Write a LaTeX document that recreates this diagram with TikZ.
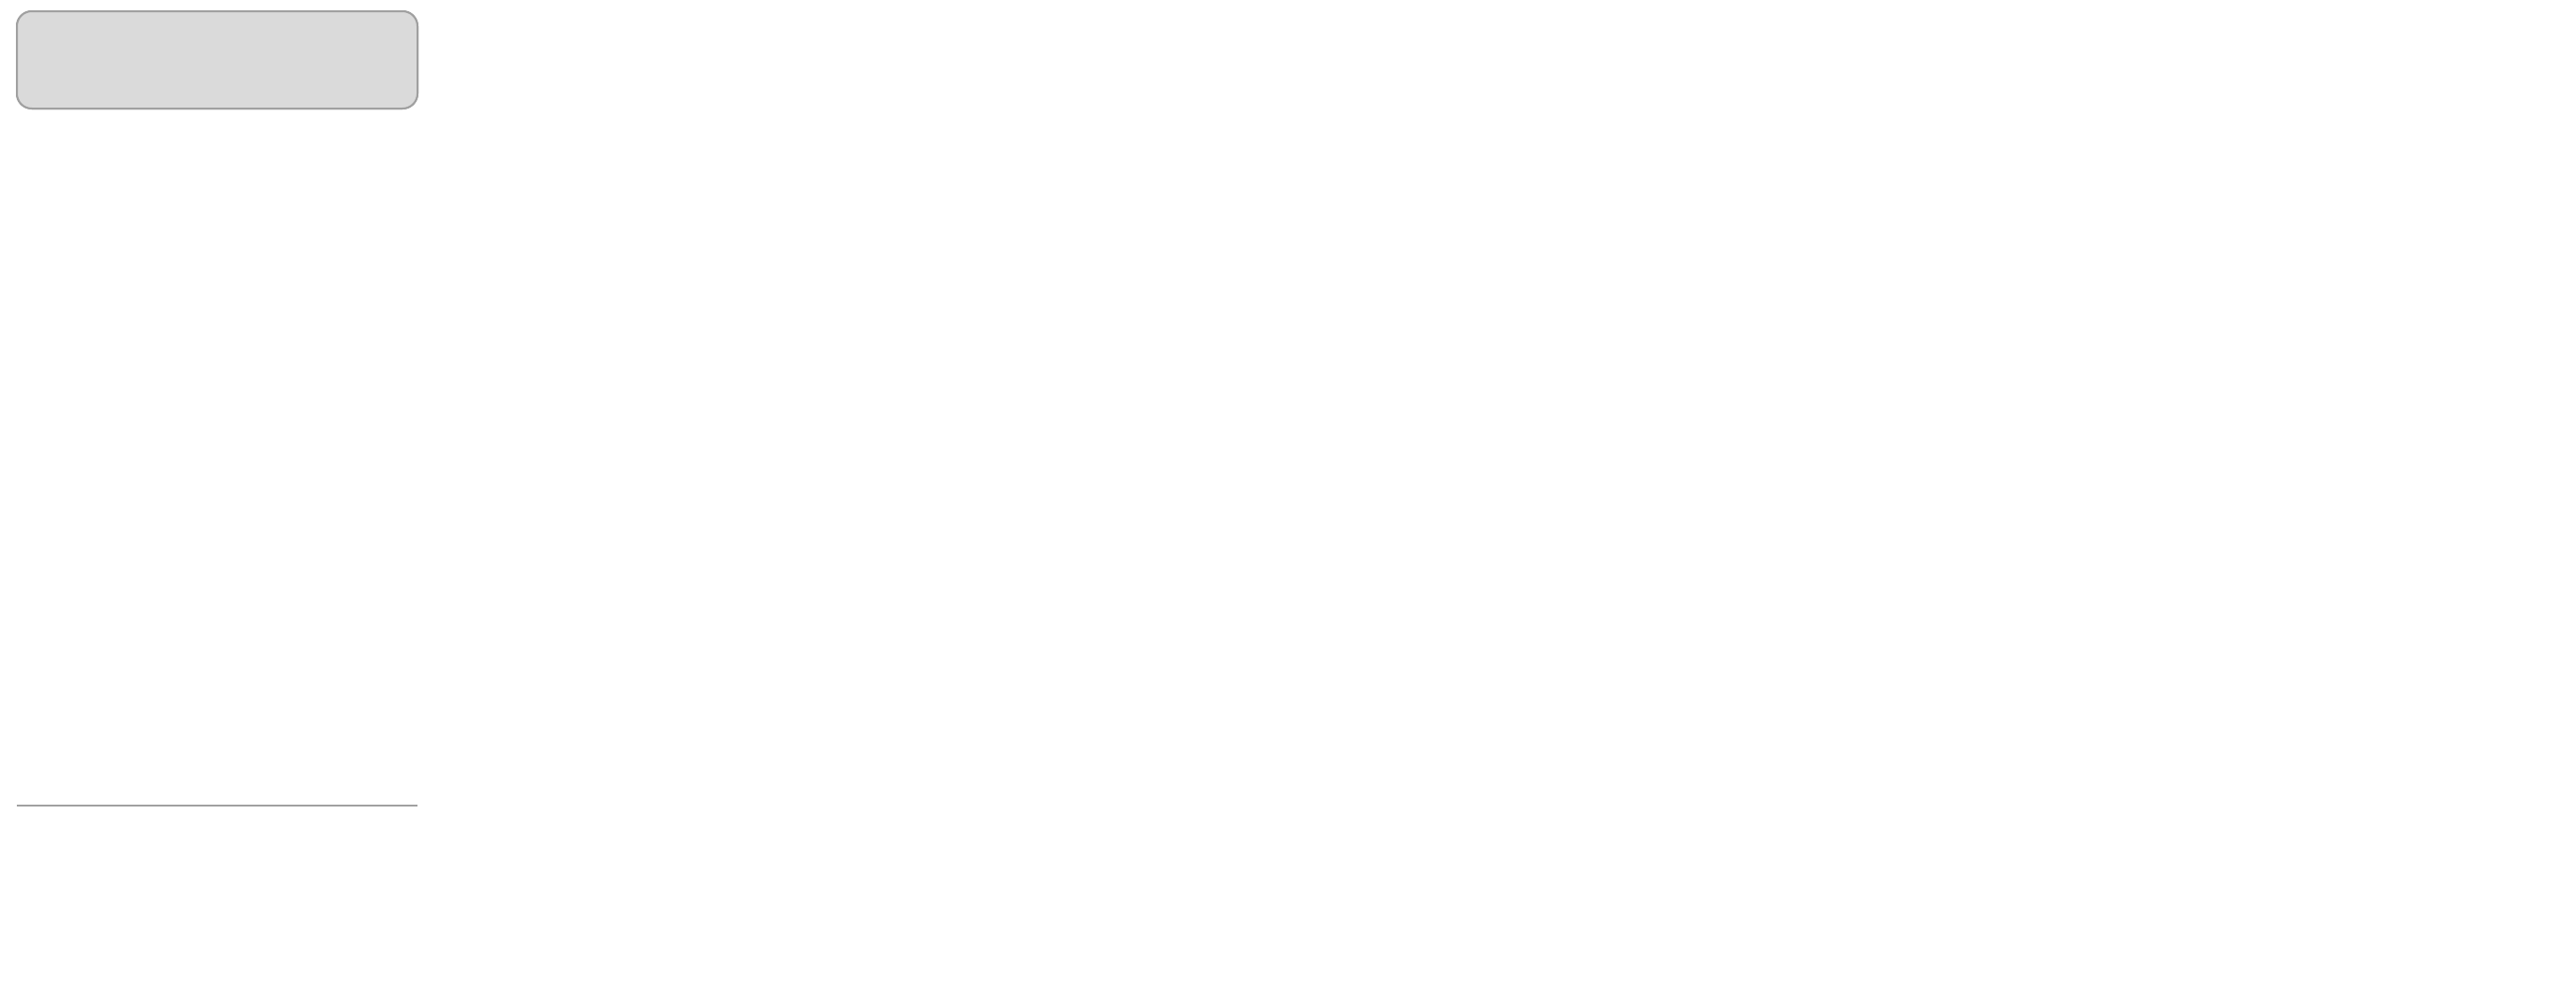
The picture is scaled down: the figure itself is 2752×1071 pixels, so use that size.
\documentclass[tikz,border=0pt]{standalone}
\usepackage{fontspec}
\setmainfont{Liberation Sans}
\usetikzlibrary{arrows.meta}
\definecolor{darkg}{HTML}{474747}
\definecolor{txt}{HTML}{222222}
\definecolor{inbg}{HTML}{F1F1F1}\definecolor{inhd}{HTML}{DADADA}\definecolor{inbd}{HTML}{A0A0A0}
\definecolor{cnbg}{HTML}{DCE9F6}\definecolor{cnhd}{HTML}{A9C9E8}\definecolor{cnbd}{HTML}{4F86BF}
\definecolor{tmbg}{HTML}{E3EFE0}\definecolor{tmhd}{HTML}{C5DFBF}\definecolor{tmbd}{HTML}{7DAE75}
\definecolor{clbg}{HTML}{EFEFEF}\definecolor{clhd}{HTML}{DCDCDC}\definecolor{clbd}{HTML}{A0A0A0}
\definecolor{cOne}{HTML}{CFE1F3}\definecolor{cOneB}{HTML}{9FC0E0}
\definecolor{cTwo}{HTML}{8DB6DE}\definecolor{cTwoB}{HTML}{5F92C5}
\definecolor{cThr}{HTML}{2F6EAB}\definecolor{cThrB}{HTML}{1F5A94}
\definecolor{innerF}{HTML}{EEF4FB}\definecolor{innerB}{HTML}{A8C4E0}
\definecolor{slabF}{HTML}{8AB4DC}\definecolor{slabB}{HTML}{2D5F91}
\definecolor{lsF}{HTML}{CFE5CA}\definecolor{lsB}{HTML}{7FB077}\definecolor{lsG}{HTML}{4C7E46}
\definecolor{sig}{HTML}{4A6A90}
\tikzset{
 fs/.style={font=\fontsize{#1}{#1*1.2}\selectfont},
 tx/.style={text=txt, fs=#1, align=center, inner sep=0},
 txb/.style={text=txt, font=\fontsize{#1}{#1*1.2}\selectfont\bfseries, align=center, inner sep=0},
 fat/.style={draw=darkg, line width=11pt, -{Triangle[length=24pt,width=38pt]}},
 fatline/.style={draw=darkg, line width=10pt},
 rbox/.style={draw=#1, line width=2pt, rounded corners=16pt, inner sep=0},
}
\newcommand\panel[7]{%
 \node[rbox=#7bd, fill=#7bg, minimum width={#4-#2}, minimum height={#5-#3}] (#1) at ({(#2+#4)/2},{(#3+#5)/2}) {};
 \begin{scope}\clip[rounded corners=16pt] (#2,#3) rectangle (#4,#5); \fill[#7hd] (#2,#3) rectangle (#4,#6); \end{scope}
 \draw[#7bd, line width=2pt, rounded corners=16pt] (#2,#3) rectangle (#4,#5);
 \draw[#7bd, line width=1.5pt] (#2,#6) -- (#4,#6);}
% slab: x y(top of front) w h dx dy fill border nlayers
\newcommand\slab[9]{%
 \begin{scope}[line width=1.6pt, draw=#8]
 \filldraw[fill=#7] (#1,#2) rectangle ({#1+#3},{#2+#4});
 \filldraw[fill=#7!80!white] (#1,#2) -- ({#1+#5},{#2-#6}) -- ({#1+#3+#5},{#2-#6}) -- ({#1+#3},#2) -- cycle;
 \filldraw[fill=#7!75!black] ({#1+#3},#2) -- ({#1+#3+#5},{#2-#6}) -- ({#1+#3+#5},{#2+#4-#6}) -- ({#1+#3},{#2+#4}) -- cycle;
 \foreach \k in {1,...,#9}{
  \pgfmathsetmacro\fr{\k/(#9+1)}
  \draw[line width=1pt] ({#1+#5*\fr},{#2-#6*\fr}) -- ({#1+#3+#5*\fr},{#2-#6*\fr}) -- ({#1+#3+#5*\fr},{#2+#4-#6*\fr});}
 \end{scope}}
% lstm icon: cx cy, inner top dir (1 right, -1 left)
\newcommand\lstmicon[3]{%
 \begin{scope}[shift={(#1,#2)}, line width=3pt, draw=lsG]
 \node[draw=lsG, line width=2pt, fill=lsG!30!lsF, rounded corners=10pt, minimum width=65pt, minimum height=73pt] at (0,0) {};
 \draw (-71,-13) -- (-33,-13);
 \draw[-{Triangle[length=14pt,width=14pt]}] (32,-13) -- (71,-13);
 \draw[-{Triangle[length=14pt,width=14pt]}] (-33,12) -- (-71,12);
 \draw (32,12) -- (71,12);
 \ifnum#3=1
  \draw[-{Triangle[length=14pt,width=14pt]}] (-22,-13) -- (24,-13);
  \draw[-{Triangle[length=14pt,width=14pt]}] (22,12) -- (-24,12);
 \else
  \draw[-{Triangle[length=14pt,width=14pt]}] (22,-13) -- (-24,-13);
  \draw[-{Triangle[length=14pt,width=14pt]}] (-22,12) -- (24,12);
 \fi
 \end{scope}}
\begin{document}
\begin{tikzpicture}[x=1pt,y=-1pt]
\useasboundingbox[fill=white] (0,0) rectangle (2752,1071);
%% ---------- Input layer
\panel{pin}{18}{12}{446}{116}{861}{in}
\end{tikzpicture}
\end{document}
